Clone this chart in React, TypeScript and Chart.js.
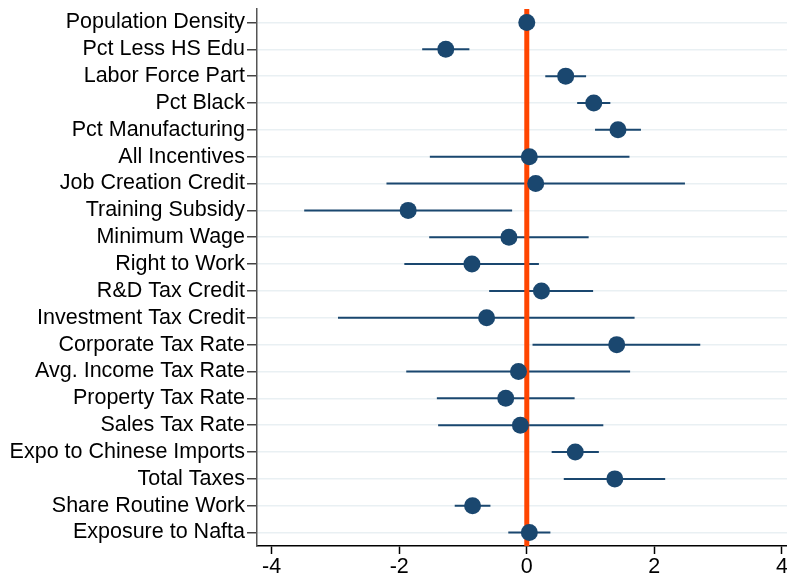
import React, { useEffect, useRef } from "react";
import { Chart, registerables } from "chart.js";

Chart.register(...registerables);

const categories = [
  "Population Density",
  "Pct Less HS Edu",
  "Labor Force Part",
  "Pct Black",
  "Pct Manufacturing",
  "All Incentives",
  "Job Creation Credit",
  "Training Subsidy",
  "Minimum Wage",
  "Right to Work",
  "R&D Tax Credit",
  "Investment Tax Credit",
  "Corporate Tax Rate",
  "Avg. Income Tax Rate",
  "Property Tax Rate",
  "Sales Tax Rate",
  "Expo to Chinese Imports",
  "Total Taxes",
  "Share Routine Work",
  "Exposure to Nafta",
];

const estimates = [
  0.0, -1.27, 0.61, 1.05, 1.43, 0.04, 0.14, -1.86, -0.28, -0.86,
  0.23, -0.63, 1.41, -0.13, -0.33, -0.1, 0.76, 1.38, -0.85, 0.04,
];

const lowerCI = [
  -0.05, -1.64, 0.29, 0.79, 1.07, -1.52, -2.2, -3.49, -1.53, -1.92,
  -0.59, -2.96, 0.09, -1.89, -1.41, -1.39, 0.39, 0.58, -1.13, -0.29,
];

const upperCI = [
  0.05, -0.9, 0.93, 1.31, 1.79, 1.61, 2.48, -0.23, 0.97, 0.19,
  1.04, 1.69, 2.72, 1.62, 0.75, 1.2, 1.13, 2.17, -0.57, 0.37,
];

const xTicks = [-4, -2, 0, 2, 4];
const referenceX = 0;

const NAVY = "#1a476f";
const ORANGE = "#ff4500";
const FONT = "'Liberation Sans', Arial, Helvetica, sans-serif";

const zeroPadding = (s: any) => {
  s.paddingLeft = 0;
  s.paddingRight = 0;
  s.paddingTop = 0;
  s.paddingBottom = 0;
};

export default function App() {
  const ref = useRef<HTMLCanvasElement | null>(null);

  useEffect(() => {
    const canvas = ref.current;
    if (!canvas) return;
    const yMin = 0.5;
    const yMax = categories.length + 0.5;

    const errorSets = categories.map((_, i) => ({
      type: "line" as const,
      data: [
        { x: lowerCI[i], y: i + 1 },
        { x: upperCI[i], y: i + 1 },
      ],
      borderColor: NAVY,
      borderWidth: 2,
      pointRadius: 0,
      showLine: true,
      order: 3,
    }));

    const chart = new Chart(canvas, {
      type: "scatter",
      data: {
        datasets: [
          ...errorSets,
          {
            type: "line" as const,
            data: [
              { x: referenceX, y: yMin },
              { x: referenceX, y: yMax },
            ],
            borderColor: ORANGE,
            borderWidth: 5,
            pointRadius: 0,
            showLine: true,
            order: 2,
          },
          {
            type: "scatter" as const,
            data: estimates.map((v, i) => ({ x: v, y: i + 1 })),
            backgroundColor: NAVY,
            borderColor: NAVY,
            borderWidth: 0,
            pointRadius: 8.5,
            order: 1,
          },
        ] as any,
      },
      options: {
        animation: false,
        responsive: false,
        devicePixelRatio: 1,
        layout: { autoPadding: false, padding: { top: 9, left: 0, right: 0, bottom: 0 } },
        plugins: {
          legend: { display: false },
          tooltip: { enabled: false },
        },
        scales: {
          x: {
            type: "linear",
            min: -4.23,
            max: 4.08,
            afterBuildTicks: (s: any) => {
              s.ticks = xTicks.map((v) => ({ value: v }));
            },
            afterFit: (s: any) => {
              s.height = 30;
              zeroPadding(s);
            },
            grid: {
              color: "rgba(0,0,0,0)",
              tickColor: "#000",
              tickLength: 8,
              tickWidth: 1.5,
              drawTicks: true,
            },
            border: { display: true, color: "#000", width: 1.5 },
            ticks: {
              color: "#000",
              font: { family: FONT, size: 21.5 },
              padding: 0,
              maxRotation: 0,
              autoSkip: false,
              callback: (v: any) => String(v),
            },
          },
          y: {
            type: "linear",
            reverse: true,
            min: yMin,
            max: yMax,
            afterBuildTicks: (s: any) => {
              s.ticks = categories.map((_, i) => ({ value: i + 1 }));
            },
            afterFit: (s: any) => {
              s.width = 257;
              zeroPadding(s);
            },
            grid: {
              color: "#e9f0f3",
              lineWidth: 1.5,
              tickColor: "#444",
              tickLength: 10,
              tickWidth: 1.5,
              drawTicks: true,
            },
            border: { display: true, color: "#555", width: 1.5 },
            ticks: {
              color: "#000",
              font: { family: FONT, size: 21.5 },
              padding: 2,
              autoSkip: false,
              callback: (v: any) => categories[Number(v) - 1] ?? "",
            },
          },
        },
      },
    });
    return () => chart.destroy();
  }, []);

  return (
    <div style={{ position: "fixed", left: 0, top: 0, width: 787, height: 576, background: "#fff" }}>
      <canvas ref={ref} width={787} height={576} style={{ display: "block", width: 787, height: 576 }} />
    </div>
  );
}
